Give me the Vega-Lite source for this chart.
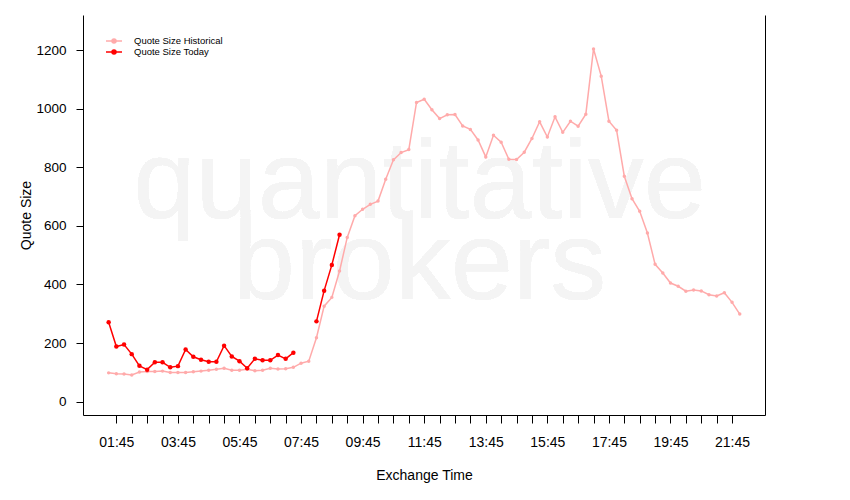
{
  "$schema": "https://vega.github.io/schema/vega-lite/v6.json",
  "width": 682,
  "height": 400,
  "autosize": "none",
  "padding": {"left": 83, "top": 15, "right": 85, "bottom": 85},
  "background": "white",
  "config": {"view": {"stroke": null}, "font": "Liberation Sans", "axis": {"grid": false}},
  "data": {
    "format": {"parse": {"time": "utc:'%H:%M'"}},
    "values": [
      {"time": "01:30", "historical": 98, "today": 271},
      {"time": "01:45", "historical": 95, "today": 188},
      {"time": "02:00", "historical": 94, "today": 195},
      {"time": "02:15", "historical": 91, "today": 162},
      {"time": "02:30", "historical": 101, "today": 122},
      {"time": "02:45", "historical": 103, "today": 109},
      {"time": "03:00", "historical": 103, "today": 134},
      {"time": "03:15", "historical": 104, "today": 134},
      {"time": "03:30", "historical": 99, "today": 117},
      {"time": "03:45", "historical": 99, "today": 121},
      {"time": "04:00", "historical": 99, "today": 178},
      {"time": "04:15", "historical": 102, "today": 153},
      {"time": "04:30", "historical": 104, "today": 143},
      {"time": "04:45", "historical": 107, "today": 136},
      {"time": "05:00", "historical": 110, "today": 136},
      {"time": "05:15", "historical": 114, "today": 191},
      {"time": "05:30", "historical": 107, "today": 154},
      {"time": "05:45", "historical": 107, "today": 138},
      {"time": "06:00", "historical": 110, "today": 114},
      {"time": "06:15", "historical": 105, "today": 146},
      {"time": "06:30", "historical": 107, "today": 141},
      {"time": "06:45", "historical": 114, "today": 141},
      {"time": "07:00", "historical": 111, "today": 159},
      {"time": "07:15", "historical": 112, "today": 146},
      {"time": "07:30", "historical": 117, "today": 167},
      {"time": "07:45", "historical": 131, "today": null},
      {"time": "08:00", "historical": 138, "today": null},
      {"time": "08:15", "historical": 218, "today": 274},
      {"time": "08:30", "historical": 326, "today": 379},
      {"time": "08:45", "historical": 356, "today": 467},
      {"time": "09:00", "historical": 446, "today": 570},
      {"time": "09:15", "historical": 561},
      {"time": "09:30", "historical": 635},
      {"time": "09:45", "historical": 657},
      {"time": "10:00", "historical": 674},
      {"time": "10:15", "historical": 685},
      {"time": "10:30", "historical": 760},
      {"time": "10:45", "historical": 826},
      {"time": "11:00", "historical": 851},
      {"time": "11:15", "historical": 861},
      {"time": "11:30", "historical": 1022},
      {"time": "11:45", "historical": 1033},
      {"time": "12:00", "historical": 997},
      {"time": "12:15", "historical": 967},
      {"time": "12:30", "historical": 980},
      {"time": "12:45", "historical": 981},
      {"time": "13:00", "historical": 942},
      {"time": "13:15", "historical": 930},
      {"time": "13:30", "historical": 894},
      {"time": "13:45", "historical": 836},
      {"time": "14:00", "historical": 910},
      {"time": "14:15", "historical": 886},
      {"time": "14:30", "historical": 828},
      {"time": "14:45", "historical": 827},
      {"time": "15:00", "historical": 852},
      {"time": "15:15", "historical": 899},
      {"time": "15:30", "historical": 956},
      {"time": "15:45", "historical": 904},
      {"time": "16:00", "historical": 973},
      {"time": "16:15", "historical": 920},
      {"time": "16:30", "historical": 958},
      {"time": "16:45", "historical": 941},
      {"time": "17:00", "historical": 982},
      {"time": "17:15", "historical": 1205},
      {"time": "17:30", "historical": 1112},
      {"time": "17:45", "historical": 958},
      {"time": "18:00", "historical": 927},
      {"time": "18:15", "historical": 770},
      {"time": "18:30", "historical": 693},
      {"time": "18:45", "historical": 650},
      {"time": "19:00", "historical": 576},
      {"time": "19:15", "historical": 469},
      {"time": "19:30", "historical": 439},
      {"time": "19:45", "historical": 405},
      {"time": "20:00", "historical": 394},
      {"time": "20:15", "historical": 377},
      {"time": "20:30", "historical": 381},
      {"time": "20:45", "historical": 378},
      {"time": "21:00", "historical": 365},
      {"time": "21:15", "historical": 361},
      {"time": "21:30", "historical": 372},
      {"time": "21:45", "historical": 339},
      {"time": "22:00", "historical": 299}
    ]
  },
  "resolve": {"scale": {"y": "shared", "x": "shared"}, "axis": {"y": "independent", "x": "independent"}},
  "layer": [
    {
      "mark": {"type": "text", "text": "quantitative", "fontSize": 112, "color": "#f4f4f4", "align": "center", "baseline": "alphabetic"},
      "encoding": {
        "x": {"datum": {"year": 1900, "month": 1, "date": 1, "hours": 11, "minutes": 36, "utc": true}, "type": "temporal", "scale": {"type": "utc", "domain": [{"year": 1900, "month": 1, "date": 1, "hours": 0, "minutes": 40, "utc": true}, {"year": 1900, "month": 1, "date": 1, "hours": 22, "minutes": 49, "seconds": 12, "utc": true}]}, "axis": null},
        "y": {"datum": 627, "type": "quantitative", "scale": {"domain": [-46, 1321], "nice": false, "zero": false}, "axis": null}
      }
    },
    {
      "mark": {"type": "text", "text": "brokers", "fontSize": 112, "color": "#f4f4f4", "align": "center", "baseline": "alphabetic"},
      "encoding": {
        "x": {"datum": {"year": 1900, "month": 1, "date": 1, "hours": 11, "minutes": 36, "utc": true}, "type": "temporal", "scale": {"type": "utc", "domain": [{"year": 1900, "month": 1, "date": 1, "hours": 0, "minutes": 40, "utc": true}, {"year": 1900, "month": 1, "date": 1, "hours": 22, "minutes": 49, "seconds": 12, "utc": true}]}, "axis": null},
        "y": {"datum": 350, "type": "quantitative", "scale": {"domain": [-46, 1321], "nice": false, "zero": false}, "axis": null}
      }
    },
    {
      "mark": {"type": "line", "strokeWidth": 1.5, "invalid": "break-paths-filter-domains", "point": {"filled": true, "size": 12}},
      "encoding": {
        "x": {
          "field": "time", "type": "temporal",
          "scale": {"type": "utc", "domain": [{"year": 1900, "month": 1, "date": 1, "hours": 0, "minutes": 40, "utc": true}, {"year": 1900, "month": 1, "date": 1, "hours": 22, "minutes": 49, "seconds": 12, "utc": true}]},
          "axis": {
            "values": [-2208982500000, -2208980700000, -2208978900000, -2208977100000, -2208975300000, -2208973500000, -2208971700000, -2208969900000, -2208968100000, -2208966300000, -2208964500000, -2208962700000, -2208960900000, -2208959100000, -2208957300000, -2208955500000, -2208953700000, -2208951900000, -2208950100000, -2208948300000, -2208946500000, -2208944700000, -2208942900000, -2208941100000, -2208939300000, -2208937500000, -2208935700000, -2208933900000, -2208932100000, -2208930300000, -2208928500000, -2208926700000, -2208924900000, -2208923100000, -2208921300000, -2208919500000, -2208917700000, -2208915900000, -2208914100000, -2208912300000, -2208910500000],
            "labelExpr": "utcminutes(datum.value) == 45 && utchours(datum.value) % 2 == 1 ? utcFormat(datum.value, '%H:%M') : ''",
            "tickSize": 8, "tickColor": "black", "domainColor": "black",
            "labelColor": "black", "labelFontSize": 14, "labelPadding": 12,
            "labelOverlap": false, "labelFlush": false, "grid": false,
            "title": "Exchange Time", "titleFontSize": 14, "titleFontWeight": "normal", "titleColor": "black",
            "titleX": 341, "titleY": 64, "titleBaseline": "alphabetic", "titleAlign": "center"
          }
        },
        "y": {
          "field": "historical", "type": "quantitative",
          "scale": {"domain": [-46, 1321], "nice": false, "zero": false},
          "axis": {
            "values": [0, 200, 400, 600, 800, 1000, 1200], "format": "d",
            "tickSize": 7, "tickColor": "black", "domainColor": "black",
            "labelColor": "black", "labelFontSize": 13.5, "labelPadding": 10, "grid": false,
            "title": "Quote Size", "titleFontSize": 14, "titleFontWeight": "normal", "titleColor": "black",
            "titleAngle": 270, "titleX": -52.5, "titleY": 200, "titleBaseline": "alphabetic", "titleAlign": "center"
          }
        },
        "color": {
          "datum": "Quote Size Historical",
          "scale": {"domain": ["Quote Size Historical", "Quote Size Today"], "range": ["#ffaaaa", "#ff0000"]},
          "legend": {
            "orient": "none", "legendX": 26, "legendY": 21, "title": null, "padding": 0,
            "symbolType": "M-2,0H2M-0.5,0A0.5,0.5,0,1,1,0.5,0A0.5,0.5,0,1,1,-0.5,0Z",
            "symbolSize": 64, "symbolStrokeWidth": 1.5,
            "labelFontSize": 9.5, "labelColor": "black", "labelOffset": 15, "rowPadding": 1,
            "encode": {"symbols": {"update": {"fill": {"scale": "color", "field": "value"}, "stroke": {"scale": "color", "field": "value"}}}}
          }
        }
      }
    },
    {
      "mark": {"type": "line", "strokeWidth": 1.5, "invalid": "break-paths-filter-domains", "point": {"filled": true, "size": 20}},
      "encoding": {
        "x": {"field": "time", "type": "temporal", "scale": {"type": "utc", "domain": [{"year": 1900, "month": 1, "date": 1, "hours": 0, "minutes": 40, "utc": true}, {"year": 1900, "month": 1, "date": 1, "hours": 22, "minutes": 49, "seconds": 12, "utc": true}]}, "axis": null},
        "y": {
          "field": "today", "type": "quantitative",
          "scale": {"domain": [-46, 1321], "nice": false, "zero": false},
          "axis": {"orient": "right", "labels": false, "ticks": false, "title": null, "domainColor": "black", "grid": false}
        },
        "color": {"datum": "Quote Size Today"}
      }
    }
  ]
}
